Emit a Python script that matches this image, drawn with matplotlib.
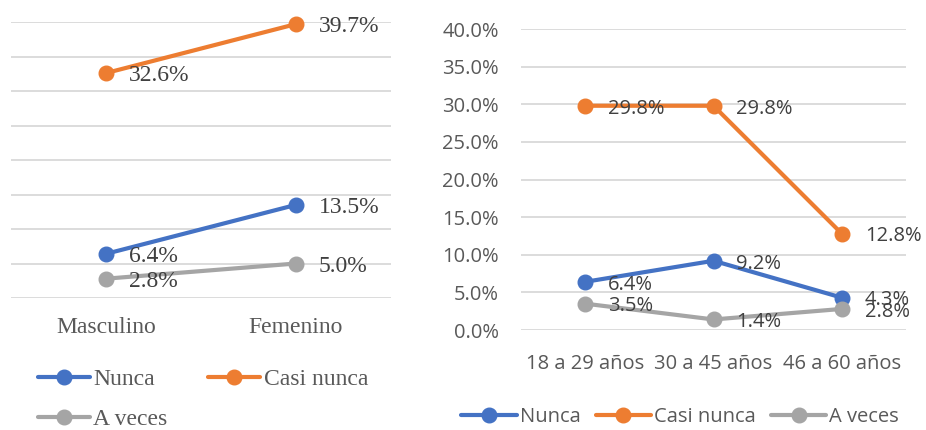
import numpy as np
import matplotlib.pyplot as plt
from matplotlib.ticker import FuncFormatter

# Data
sexo = ["Masculino", "Femenino"]
sexo_nunca = [6.4, 13.5]
sexo_casi = [32.6, 39.7]
sexo_aveces = [2.8, 5.0]

edad = ["18 a 29 años", "30 a 45 años", "46 a 60 años"]
edad_nunca = [6.4, 9.2, 4.3]
edad_casi = [29.8, 29.8, 12.8]
edad_aveces = [3.5, 1.4, 2.8]

series_names = ["Nunca", "Casi nunca", "A veces"]
colors = ["#4472C4", "#ED7D31", "#A5A5A5"]
grid_color = "#D9D9D9"
text_color = "#404040"
axis_text = "#595959"

W, H = 926, 430
fig = plt.figure(figsize=(W / 100, H / 100), dpi=100)


def setup(ax):
    for s in ax.spines.values():
        s.set_visible(False)
    ax.set_ylim(0, 40)
    ax.set_yticks(np.arange(0, 41, 5))
    ax.grid(axis="y", color=grid_color, linewidth=1.3)
    ax.set_axisbelow(True)
    ax.tick_params(length=0)


def draw(ax, cats, data, font, fsize):
    x = np.arange(len(cats))
    for vals, name, c in zip(data, series_names, colors):
        ax.plot(x, vals, color=c, lw=3, marker="o", ms=10.5, label=name,
                clip_on=False, solid_capstyle="round")
        for xi, v in zip(x, vals):
            ax.annotate(f"{v:.1f}%", (xi, v), xytext=(16.5, -2),
                        textcoords="offset points", ha="left", va="center",
                        fontsize=fsize, family=font, color=text_color)
    ax.set_xlim(-0.5, len(cats) - 0.5)
    ax.set_xticks(x)
    ax.set_xticklabels(cats, family=font, fontsize=fsize, color=axis_text)


# Left panel: by sex
ax1 = fig.add_axes([11 / W, 1 - 298 / H, 380 / W, 276 / H])
setup(ax1)
draw(ax1, sexo, [sexo_nunca, sexo_casi, sexo_aveces], "Liberation Serif", 17)
ax1.set_yticklabels([])
ax1.tick_params(axis="x", pad=14)
h, l = ax1.get_legend_handles_labels()
order = [0, 2, 1]
leg1 = ax1.legend([h[i] for i in order], [l[i] for i in order],
                  loc="upper left", bbox_to_anchor=(0.071, -0.257), ncol=2,
                  frameon=False, prop={"family": "Liberation Serif", "size": 17},
                  handlelength=2.2, handletextpad=0.15, columnspacing=1.72,
                  labelspacing=0.78, borderaxespad=0, borderpad=0)
for t in leg1.get_texts():
    t.set_color(axis_text)

# Right panel: by age
ax2 = fig.add_axes([521 / W, 1 - 330 / H, 385 / W, 301 / H])
setup(ax2)
draw(ax2, edad, [edad_nunca, edad_casi, edad_aveces], "Open Sans", 14.5)
ax2.yaxis.set_major_formatter(FuncFormatter(lambda v, p: f"{v:.1f}%"))
for lab in ax2.get_yticklabels():
    lab.set_family("Open Sans")
    lab.set_fontsize(14.5)
    lab.set_color(axis_text)
ax2.tick_params(axis="y", pad=16)
ax2.tick_params(axis="x", pad=17)
leg2 = ax2.legend(loc="upper left", bbox_to_anchor=(-0.155, -0.255), ncol=3,
                  frameon=False, prop={"family": "Open Sans", "size": 14.5},
                  handlelength=2.75, handletextpad=0.15, columnspacing=0.75,
                  borderaxespad=0, borderpad=0)
for t in leg2.get_texts():
    t.set_color(axis_text)

fig.savefig("out.png", dpi=100)
